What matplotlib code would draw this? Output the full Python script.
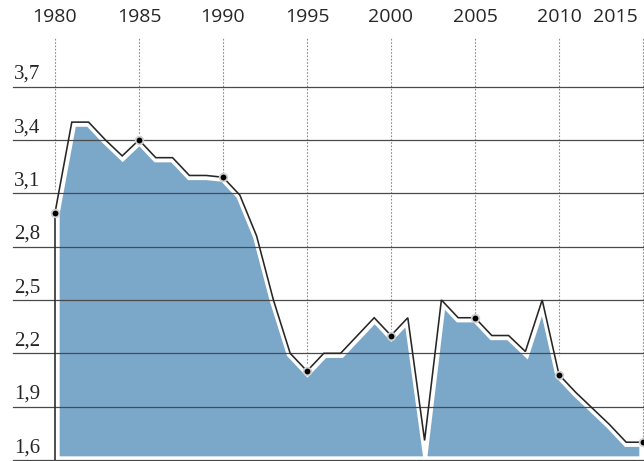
import numpy as np
import matplotlib.pyplot as plt

# annual values, 1980-2015
years = list(range(1980, 2016))
values = [2.99, 3.50, 3.50, 3.40, 3.31, 3.40, 3.30, 3.30, 3.20, 3.20,
          3.19, 3.09, 2.86, 2.50, 2.20, 2.10, 2.20, 2.20, 2.30, 2.40,
          2.30, 2.40, 1.71, 2.50, 2.40, 2.40, 2.30, 2.30, 2.21, 2.50,
          2.08, 1.98, 1.89, 1.80, 1.70, 1.70]

y_ticks = [1.6, 1.9, 2.2, 2.5, 2.8, 3.1, 3.4, 3.7]
y_labels = ['1,6', '1,9', '2,2', '2,5', '2,8', '3,1', '3,4', '3,7']
x_ticks = [1980, 1985, 1990, 1995, 2000, 2005, 2010, 2015]
baseline = 1.6

fill_color = '#7ba7c9'
ink = '#262626'

fig = plt.figure(figsize=(6.44, 4.61), dpi=100)
ax = fig.add_axes([13/644, 1/461, 631/644, 422/461])
ax.set_xlim(1977.5, 2015.06)
ax.set_ylim(baseline, 3.973)
ax.axis('off')

# dotted year guides, hidden behind the area
for yr in x_ticks:
    ax.axvline(yr, color='#8c8c8c', lw=0.8, ls=(0, (1.5, 1.5)), zorder=1)

# area with a white rim (mitred, so the 2002 dip cuts through to the base)
ax.fill_between(years, values, baseline, facecolor=fill_color,
                edgecolor='white', lw=6, joinstyle='miter', zorder=2)

# horizontal rules drawn over the area
for v in y_ticks:
    ax.axhline(v, color='#4a4a4a', lw=0.9, zorder=3, clip_on=False)

# outline, starting from the baseline at 1980
ax.plot([years[0]] + years, [baseline] + values, color=ink, lw=1.15,
        zorder=4, solid_joinstyle='miter')

# dots on the five-year marks
mk = [i for i, yr in enumerate(years) if yr in x_ticks]
ax.plot([years[i] for i in mk], [values[i] for i in mk], 'o', ms=5.5,
        color='black', mec='#d0d0d0', mew=1.3, zorder=5, clip_on=False)

# y labels sit above their rules
for v, lab in zip(y_ticks, y_labels):
    ax.annotate(lab, xy=(0, v), xycoords=('axes fraction', 'data'),
                xytext=(1, 5.5), textcoords='offset points',
                ha='left', va='baseline', fontsize=15,
                family='Liberation Serif', color=ink)

# year labels along the top
for yr in x_ticks:
    last = yr == x_ticks[-1]
    ax.annotate(str(yr), xy=(yr, 1.0), xycoords=('data', 'axes fraction'),
                xytext=(-4 if last else 0, 15), textcoords='offset points',
                ha='right' if last else 'center', va='center',
                fontsize=14, family='Open Sans', color=ink)

fig.savefig('out.png', dpi=100)
